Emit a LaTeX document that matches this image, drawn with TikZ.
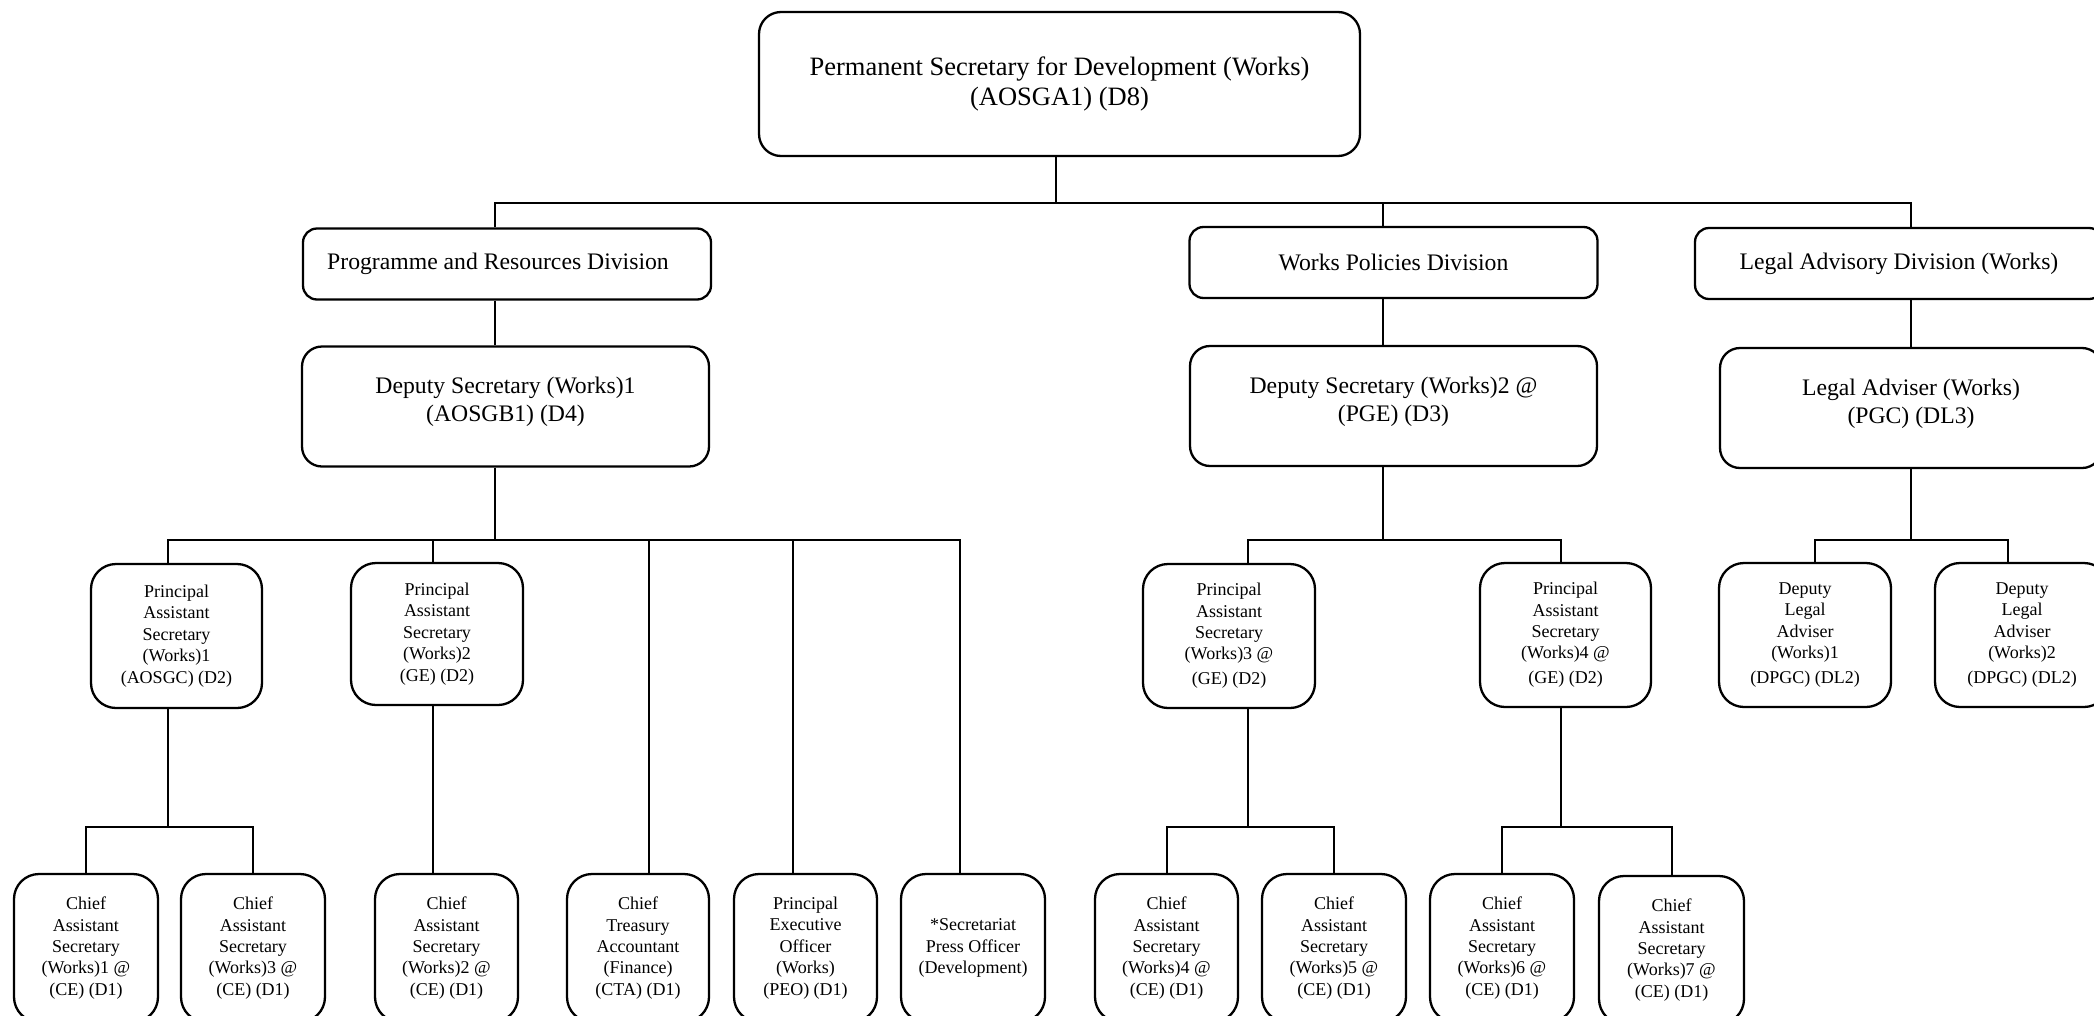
\documentclass[tikz,border=0pt]{standalone}
\usepackage{fontspec}
\setmainfont{Liberation Serif}
\begin{document}
\begin{tikzpicture}[x=1pt,y=-1pt,
  box/.style={draw, line width=2.3pt, align=center, inner sep=0pt, fill=white},
  topbox/.style={box, rounded corners=22pt, minimum width=601pt, minimum height=144pt, font=\fontsize{26.5}{29.5}\selectfont},
  divbox/.style={box, rounded corners=14pt, minimum width=408pt, minimum height=71pt, font=\fontsize{23.7}{28}\selectfont},
  depbox/.style={box, rounded corners=20pt, minimum width=407pt, minimum height=120pt, text depth=14pt, font=\fontsize{23.7}{28}\selectfont},
  smallbox/.style={box, rounded corners=25pt, minimum width=172pt, minimum height=144pt, font=\fontsize{18}{21.4}\selectfont},
  leafbox/.style={box, rounded corners=25pt, minimum width=144pt, minimum height=148pt, font=\fontsize{18}{21.4}\selectfont},
  conn/.style={line width=2pt}]
\useasboundingbox (0,0) rectangle (2094,1015);
\clip (0,0) rectangle (2094,1015);
\fill[white] (0,0) rectangle (2094,1015);

% level 0
\node[topbox] (top) at (1059.5,84) {Permanent Secretary for Development (Works)\\(AOSGA1) (D8)};
% level 1
\node[divbox] (prog) at (507,264) {Programme and Resources Division\hspace{18pt}};
\node[divbox] (wpd) at (1393.5,262.5) {Works Policies Division};
\node[divbox] (lad) at (1899,263.5) {Legal Advisory Division (Works)};
% level 2
\node[depbox] (ds1) at (505.5,406.5) {Deputy Secretary (Works)1\\(AOSGB1) (D4)};
\node[depbox] (ds2) at (1393.5,406) {Deputy Secretary (Works)2 @\\(PGE) (D3)};
\node[depbox, minimum width=382pt] (la) at (1911,408) {Legal Adviser (Works)\\(PGC) (DL3)};
% level 3
\node[smallbox, minimum width=171pt] (pas1) at (176.5,636) {Principal\\Assistant\\Secretary\\(Works)1\\(AOSGC) (D2)};
\node[smallbox, minimum height=142pt] (pas2) at (437,634) {Principal\\Assistant\\Secretary\\(Works)2\\(GE) (D2)};
\node[smallbox] (pas3) at (1229,636) {Principal\\Assistant\\Secretary\\(Works)3 @\\[3.5pt](GE) (D2)};
\node[smallbox, minimum width=171pt, minimum height=144pt] (pas4) at (1565.5,635) {Principal\\Assistant\\Secretary\\(Works)4 @\\[3.5pt](GE) (D2)};
\node[smallbox] (dla1) at (1805,635) {Deputy\\Legal\\Adviser\\(Works)1\\[3.5pt](DPGC) (DL2)};
\node[smallbox, minimum width=174pt] (dla2) at (2022,635) {Deputy\\Legal\\Adviser\\(Works)2\\[3.5pt](DPGC) (DL2)};
% level 4
\node[leafbox] (cas1) at (86,948) {Chief\\Assistant\\Secretary\\(Works)1 @\\(CE) (D1)};
\node[leafbox] (cas3) at (253,948) {Chief\\Assistant\\Secretary\\(Works)3 @\\(CE) (D1)};
\node[leafbox, minimum width=143pt] (cas2) at (446.5,948) {Chief\\Assistant\\Secretary\\(Works)2 @\\(CE) (D1)};
\node[leafbox, minimum width=142pt] (cta) at (638,948) {Chief\\Treasury\\Accountant\\(Finance)\\(CTA) (D1)};
\node[leafbox, minimum width=143pt] (peo) at (805.5,948) {Principal\\Executive\\Officer\\(Works)\\(PEO) (D1)};
\node[leafbox] (sec) at (973,948) {*Secretariat\\Press Officer\\(Development)};
\node[leafbox, minimum width=143pt] (cas4) at (1166.5,948) {Chief\\Assistant\\Secretary\\(Works)4 @\\(CE) (D1)};
\node[leafbox] (cas5) at (1334,948) {Chief\\Assistant\\Secretary\\(Works)5 @\\(CE) (D1)};
\node[leafbox] (cas6) at (1502,948) {Chief\\Assistant\\Secretary\\(Works)6 @\\(CE) (D1)};
\node[leafbox, minimum width=145pt] (cas7) at (1671.5,950) {Chief\\Assistant\\Secretary\\(Works)7 @\\(CE) (D1)};

% bus coordinates
\coordinate (t0) at (1056,203);
\coordinate (b1) at (495,540);
\coordinate (b2) at (1383,540);
\coordinate (b3) at (1911,540);
\coordinate (x1) at (168,0);
\coordinate (x2) at (433,0);
\coordinate (x3) at (649,0);
\coordinate (x4) at (793,0);
\coordinate (x5) at (960,0);
\coordinate (x6) at (1248,0);
\coordinate (x7) at (1561,0);
\coordinate (x8) at (1815,0);
\coordinate (x9) at (2008,0);
\coordinate (s1) at (168,827);
\coordinate (s3) at (1248,827);
\coordinate (s4) at (1561,827);

% level 0 -> 1
\draw[conn] (t0 |- top.south) -- (t0);
\draw[conn] (b1 |- prog.north) |- (t0) -| (b3 |- lad.north);
\draw[conn] (t0 -| b2) -- (b2 |- wpd.north);
% level 1 -> 2
\draw[conn] (b1 |- prog.south) -- (b1 |- ds1.north);
\draw[conn] (b2 |- wpd.south) -- (b2 |- ds2.north);
\draw[conn] (b3 |- lad.south) -- (b3 |- la.north);
% level 2 buses
\draw[conn] (b1 |- ds1.south) -- (b1);
\draw[conn] (x1 |- pas1.north) |- (b1) -| (x5 |- sec.north);
\draw[conn] (x2 |- b1) -- (x2 |- pas2.north);
\draw[conn] (x3 |- b1) -- (x3 |- cta.north);
\draw[conn] (x4 |- b1) -- (x4 |- peo.north);
\draw[conn] (b2 |- ds2.south) -- (b2);
\draw[conn] (x6 |- pas3.north) |- (b2) -| (x7 |- pas4.north);
\draw[conn] (b3 |- la.south) -- (b3);
\draw[conn] (x8 |- dla1.north) |- (b3) -| (x9 |- dla2.north);
% level 3 -> 4
\draw[conn] (x1 |- pas1.south) -- (s1);
\draw[conn] (cas1.north) |- (s1) -| (cas3.north);
\draw[conn] (x2 |- pas2.south) -- (x2 |- cas2.north);
\draw[conn] (x6 |- pas3.south) -- (s3);
\draw[conn] (cas4.north) |- (s3) -| (cas5.north);
\draw[conn] (x7 |- pas4.south) -- (s4);
\draw[conn] (cas6.north) |- (s4) -| (cas7.north);
\end{tikzpicture}
\end{document}
